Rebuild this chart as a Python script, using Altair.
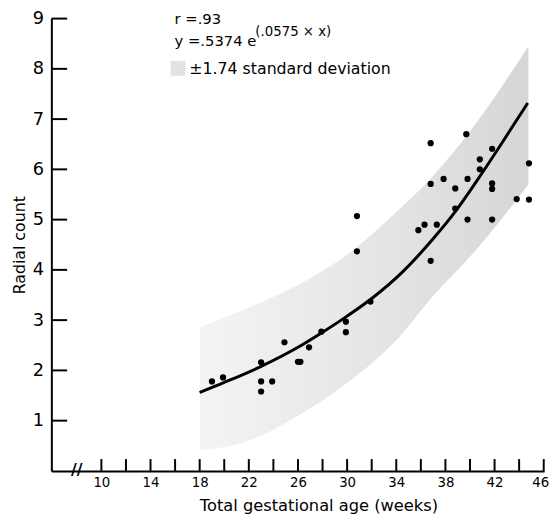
import altair as alt
import pandas as pd

# ---- data ----
age_weeks = [19.0, 19.9, 23.0, 23.0, 23.0, 23.9, 24.9, 26.0, 26.2, 26.9, 27.9,
             29.9, 29.9, 30.8, 30.8, 31.9, 35.8, 36.3, 36.8, 36.8, 36.8, 37.3,
             37.85, 38.8, 38.8, 39.7, 39.8, 39.8, 40.8, 40.8, 41.8, 41.8, 41.8,
             41.8, 43.8, 44.8, 44.8]
radial_count = [1.78, 1.86, 2.16, 1.78, 1.58, 1.78, 2.56, 2.17, 2.17, 2.46, 2.77,
                2.97, 2.76, 5.07, 4.37, 3.37, 4.79, 4.90, 5.71, 6.52, 4.18, 4.90,
                5.81, 5.62, 5.22, 6.70, 5.81, 5.00, 6.20, 6.00, 6.41, 5.72, 5.61,
                5.00, 5.41, 6.12, 5.40]

fit_x = [18.0, 20.0, 23.0, 26.0, 28.0, 30.0, 32.0, 34.6, 37.0, 38.8, 40.8, 42.4, 44.7]
fit_y = [1.56, 1.76, 2.08, 2.46, 2.76, 3.08, 3.43, 3.98, 4.62, 5.16, 5.86, 6.45, 7.32]

band_x = [18.0, 22.0, 26.0, 30.0, 34.0, 37.0, 40.5, 44.75]
band_lo = [0.41, 0.60, 1.10, 1.75, 2.60, 3.48, 4.40, 5.70]
band_hi = [2.86, 3.25, 3.70, 4.30, 5.15, 5.87, 6.92, 8.45]

x_tick_values = [10, 12, 14, 16, 18, 20, 22, 24, 26, 28, 30, 32, 34, 36, 38, 40, 42, 44, 46]
x_label_values = [10, 14, 18, 22, 26, 30, 34, 38, 42, 46]
y_tick_values = [1, 2, 3, 4, 5, 6, 7, 8, 9]

FONT = "DejaVu Sans"

points_df = pd.DataFrame({"x": age_weeks, "y": radial_count})
fit_df = pd.DataFrame({"x": fit_x, "y": fit_y})
band_df = pd.DataFrame({"x": band_x, "lo": band_lo, "hi": band_hi})
xt_df = pd.DataFrame({"x": x_tick_values})
yt_df = pd.DataFrame({"y": y_tick_values})
one_df = pd.DataFrame({"k": [0]})

xs = alt.Scale(domain=[5.93, 46.03], nice=False, zero=False)
ys = alt.Scale(domain=[0, 9], nice=False, zero=False)

x_axis = alt.Axis(values=x_label_values, ticks=False, tickSize=0, grid=False,
                  domain=True, domainColor="black", domainWidth=2,
                  labelFont=FONT, labelFontSize=13.5, labelColor="black",
                  labelPadding=5, labelFlush=3, labelFlushOffset=5,
                  labelOverlap=False,
                  titleFont=FONT, titleFontSize=16.5, titleFontWeight="normal",
                  titleColor="black", titleX=271, titleY=40,
                  titleBaseline="alphabetic", titleAlign="center")
y_axis = alt.Axis(values=y_tick_values, ticks=False, tickSize=0, grid=False,
                  domain=True, domainColor="black", domainWidth=2,
                  labelFont=FONT, labelFontSize=18, labelColor="black",
                  labelPadding=8, labelFlush=False, labelOverlap=False,
                  titleFont=FONT, titleFontSize=16, titleFontWeight="normal",
                  titleColor="black", titleX=-32, titleBaseline="middle")

X_TITLE = "Total gestational age (weeks)"
Y_TITLE = "Radial count"

def X(field):
    return alt.X(field, type="quantitative", scale=xs, axis=x_axis, title=X_TITLE)

def Y(field):
    return alt.Y(field, type="quantitative", scale=ys, axis=y_axis, title=Y_TITLE)

grad = alt.LinearGradient(
    gradient="linear", x1=0, x2=1, y1=0, y2=0,
    stops=[alt.GradientStop(color="#f4f4f4", offset=0),
           alt.GradientStop(color="#e6e6e6", offset=0.5),
           alt.GradientStop(color="#d6d6d6", offset=1)])

band = alt.Chart(band_df).mark_area(color=grad, interpolate="monotone").encode(
    x=X("x"), y=Y("lo"), y2="hi")

xticks = alt.Chart(xt_df).mark_rule(color="black", strokeWidth=2).encode(
    x=X("x"), y=alt.value(459), y2=alt.value(447))
yticks = alt.Chart(yt_df).mark_rule(color="black", strokeWidth=2).encode(
    y=Y("y"), x=alt.value(0), x2=alt.value(16))

fit = alt.Chart(fit_df).mark_line(color="black", strokeWidth=3, interpolate="monotone").encode(
    x=X("x"), y=Y("y"))

pts = alt.Chart(points_df).mark_circle(color="black", opacity=1, size=40).encode(
    x=X("x"), y=Y("y"))

def label(txt, x, y, size, weight="normal"):
    return alt.Chart(one_df).mark_text(
        text=txt, font=FONT, fontSize=size, fontWeight=weight, align="left",
        baseline="alphabetic", color="black").encode(x=alt.value(x), y=alt.value(y))

axis_break = label("//", 20, 463, 16, "bold")
t1 = label("r =.93", 125, 6, 15)
t2 = label("y =.5374 e", 125, 28, 15)
t3 = label("(.0575 \u00d7 x)", 207, 18, 13.5)
t4 = label("\u00b11.74 standard deviation", 140, 56, 16)
sq = alt.Chart(one_df).mark_rect(color="#e2e2e2").encode(
    x=alt.value(121), x2=alt.value(136), y=alt.value(43), y2=alt.value(58))

chart = alt.layer(band, xticks, yticks, fit, pts, sq, axis_break,
                  t1, t2, t3, t4).properties(
    width=500, height=459,
    autosize=alt.AutoSizeParams(type="none"),
    padding={"left": 44, "top": 7, "right": 6, "bottom": 41},
    background="white",
).configure_view(stroke=None)

chart.save("out.html", embed_options={"renderer": "svg", "actions": False})
